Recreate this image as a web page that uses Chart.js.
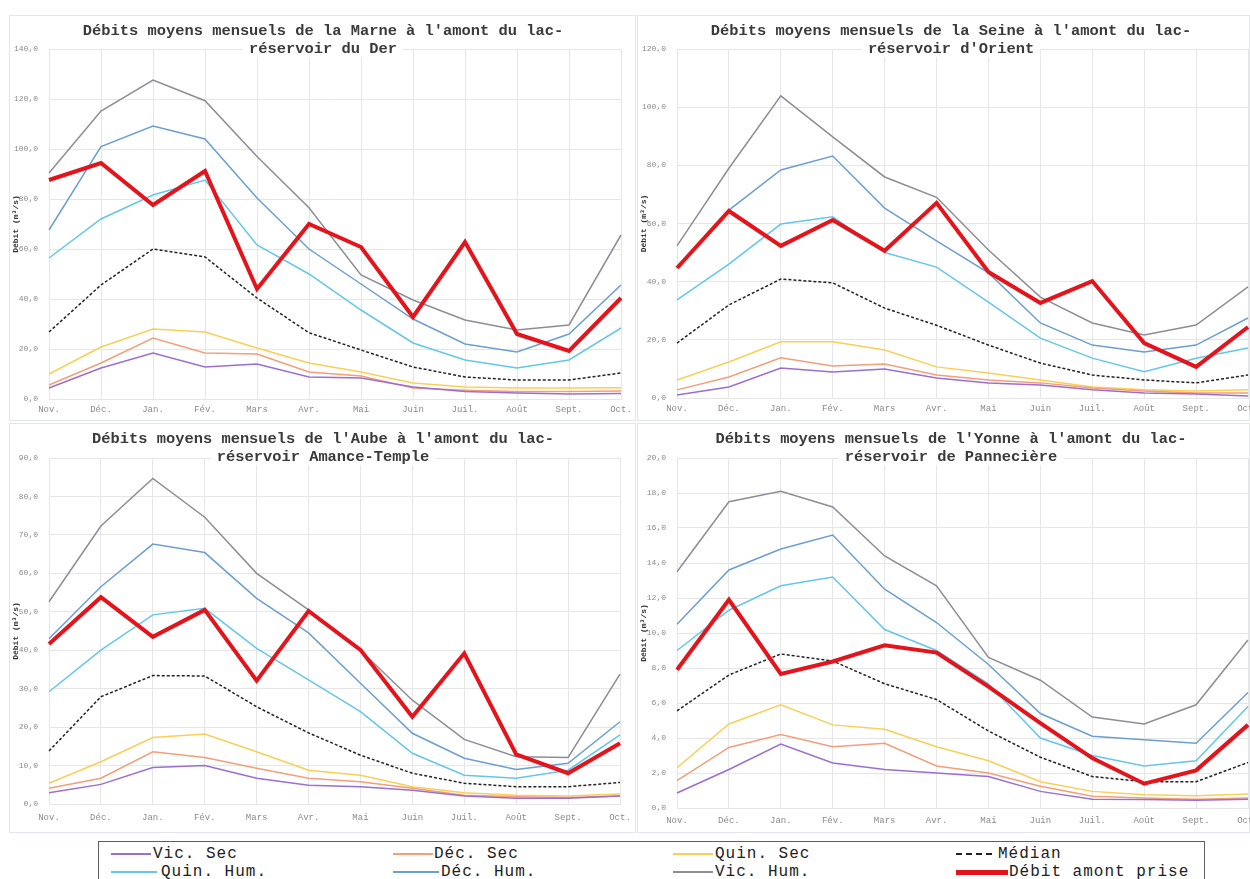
<!DOCTYPE html>
<html>
<head>
<meta charset="utf-8">
<script src="https://cdn.jsdelivr.net/npm/chart.js@4/dist/chart.umd.min.js"></script>
<style>
  body { margin: 0; background: #fff; width: 1250px; height: 879px; overflow: hidden; position: relative; }
  .frame { position: absolute; box-sizing: border-box; border: 1px solid #e2e6ea; }
  canvas.panel { position: absolute; }
  #legend { position: absolute; left: 98px; top: 841px; width: 1107px; height: 45px; box-sizing: border-box; border: 1px solid #5e5e5e; }
  .item { position: absolute; font-family: "Liberation Mono", monospace; font-size: 16px; letter-spacing: 1px; color: #222; line-height: 18px; white-space: nowrap; }
  .sw { position: absolute; height: 0; }
  .item span.t { position: absolute; top: 0; }
</style>
</head>
<body>
<div class="frame" style="left:9px;top:15px;width:627px;height:406px"></div>
<div class="frame" style="left:637px;top:15px;width:613px;height:406px"></div>
<div class="frame" style="left:9px;top:423px;width:627px;height:410px"></div>
<div class="frame" style="left:637px;top:423px;width:613px;height:410px"></div>
<canvas class="panel" id="marne" width="627" height="406" style="left:9px;top:15px"></canvas>
<canvas class="panel" id="seine" width="613" height="406" style="left:637px;top:15px"></canvas>
<canvas class="panel" id="aube" width="627" height="410" style="left:9px;top:423px"></canvas>
<canvas class="panel" id="yonne" width="613" height="410" style="left:637px;top:423px"></canvas>
<div id="legend"></div>

<script>
// Months of the hydrological year
const months = ['Nov.', 'Déc.', 'Jan.', 'Fév.', 'Mars', 'Avr.', 'Mai', 'Juin', 'Juil.', 'Août', 'Sept.', 'Oct.'];

// Series names
const seriesNames = ['Vic. Sec', 'Déc. Sec', 'Quin. Sec', 'Médian', 'Quin. Hum.', 'Déc. Hum.', 'Vic. Hum.', 'Débit amont prise'];

// Marne upstream of lac-réservoir du Der (m³/s)
const marneVicSec  = [4.4, 12.4, 18.4, 12.8, 14.0, 8.8, 8.4, 4.8, 3.0, 2.4, 2.0, 2.2];
const marneDecSec  = [5.6, 14.4, 24.4, 18.4, 18.0, 10.8, 9.2, 4.4, 3.5, 3.0, 3.0, 3.2];
const marneQuinSec = [10.0, 20.8, 28.0, 26.8, 20.4, 14.4, 10.8, 6.4, 4.8, 4.4, 4.4, 4.5];
const marneMedian  = [26.8, 45.6, 60.0, 56.8, 40.4, 26.5, 19.6, 12.8, 8.8, 7.6, 7.6, 10.4];
const marneQuinHum = [56.4, 72.0, 81.6, 87.6, 61.6, 50.0, 35.6, 22.4, 15.6, 12.4, 15.6, 28.4];
const marneDecHum  = [67.6, 101.0, 109.2, 104.0, 80.4, 60.0, 46.0, 32.0, 22.0, 18.8, 26.0, 45.6];
const marneVicHum  = [90.4, 115.2, 127.6, 119.3, 97.0, 76.5, 49.6, 39.6, 31.6, 27.6, 29.6, 65.6];
const marneDebit   = [87.6, 94.4, 77.6, 91.2, 44.0, 70.0, 60.8, 32.8, 62.8, 26.0, 19.2, 40.4];

// Seine upstream of lac-réservoir d'Orient (m³/s)
const seineVicSec  = [1.0, 3.8, 10.3, 8.9, 10.0, 6.9, 5.2, 4.5, 2.8, 1.7, 1.4, 0.7];
const seineDecSec  = [2.8, 7.2, 13.8, 11.0, 11.7, 7.9, 6.2, 5.2, 3.4, 2.4, 1.7, 1.7];
const seineQuinSec = [6.2, 12.4, 19.3, 19.3, 16.5, 10.7, 8.6, 6.2, 3.8, 2.8, 2.4, 2.8];
const seineMedian  = [18.9, 32.0, 40.9, 39.6, 30.9, 25.0, 18.2, 12.0, 7.9, 6.2, 5.2, 7.9];
const seineQuinHum = [33.7, 46.0, 59.8, 62.3, 50.0, 45.0, 33.0, 20.6, 13.7, 9.0, 13.7, 17.2];
const seineDecHum  = [45.0, 64.6, 78.4, 83.2, 65.3, 54.0, 43.0, 25.8, 18.2, 15.8, 18.2, 27.5];
const seineVicHum  = [52.3, 79.0, 103.9, 89.8, 76.0, 69.0, 50.9, 34.7, 25.8, 21.7, 25.1, 38.2];
const seineDebit   = [44.7, 64.3, 52.3, 61.2, 50.6, 67.1, 43.3, 32.7, 40.2, 18.9, 10.7, 24.4];

// Aube upstream of lac-réservoir Amance-Temple (m³/s)
const aubeVicSec  = [2.9, 5.1, 9.5, 10.0, 6.7, 4.9, 4.5, 3.6, 2.1, 1.5, 1.5, 2.1];
const aubeDecSec  = [4.1, 6.7, 13.6, 12.1, 9.3, 6.7, 5.8, 4.1, 2.3, 1.9, 1.7, 2.1];
const aubeQuinSec = [5.4, 11.0, 17.3, 18.2, 13.6, 8.8, 7.5, 4.5, 2.9, 2.3, 2.1, 2.6];
const aubeMedian  = [13.8, 27.9, 33.4, 33.3, 25.3, 18.5, 12.7, 8.0, 5.4, 4.5, 4.5, 5.6];
const aubeQuinHum = [29.2, 40.0, 49.2, 50.9, 40.5, 32.3, 24.0, 13.2, 7.5, 6.7, 8.8, 18.0];
const aubeDecHum  = [43.0, 56.5, 67.6, 65.4, 53.5, 44.5, 31.4, 18.4, 11.9, 9.0, 10.6, 21.4];
const aubeVicHum  = [52.6, 72.3, 84.7, 74.6, 60.0, 50.5, 40.0, 27.0, 16.8, 12.3, 12.1, 33.8];
const aubeDebit   = [41.6, 53.8, 43.5, 50.5, 32.1, 50.2, 40.1, 22.7, 39.2, 12.9, 8.0, 15.8];

// Yonne upstream of lac-réservoir de Pannecière (m³/s)
const yonneVicSec  = [0.86, 2.2, 3.65, 2.57, 2.2, 2.0, 1.8, 0.95, 0.5, 0.48, 0.44, 0.5];
const yonneDecSec  = [1.56, 3.46, 4.2, 3.5, 3.7, 2.4, 2.0, 1.24, 0.67, 0.57, 0.5, 0.57];
const yonneQuinSec = [2.3, 4.8, 5.9, 4.75, 4.5, 3.5, 2.7, 1.5, 0.95, 0.76, 0.7, 0.8];
const yonneMedian  = [5.55, 7.6, 8.8, 8.4, 7.1, 6.2, 4.4, 2.9, 1.8, 1.5, 1.5, 2.6];
const yonneQuinHum = [9.0, 11.3, 12.7, 13.2, 10.2, 9.0, 7.1, 4.0, 3.0, 2.4, 2.7, 5.8];
const yonneDecHum  = [10.5, 13.6, 14.8, 15.6, 12.5, 10.6, 8.2, 5.4, 4.1, 3.9, 3.7, 6.6];
const yonneVicHum  = [13.5, 17.5, 18.1, 17.2, 14.4, 12.7, 8.6, 7.3, 5.2, 4.8, 5.9, 9.6];
const yonneDebit   = [7.9, 11.9, 7.66, 8.37, 9.3, 8.88, 6.94, 4.85, 2.85, 1.39, 2.15, 4.75];

// Line styles, in the same order as seriesNames
const colors  = ['#9a6fd1', '#f29f7a', '#f9cf55', '#222222', '#63c7ea', '#6b9fd1', '#8d8d97', '#e3141b'];
const widths  = [1.5, 1.5, 1.5, 1.5, 1.5, 1.5, 1.5, 4];
const dashes  = [[], [], [], [3, 2], [], [], [], []];

const MONO = '"Liberation Mono", "Courier New", monospace';

// Two-line title drawn over the top of the plot, on a white band
const panelTitle = {
  id: 'panelTitle',
  afterDraw(chart, args, opts) {
    const ctx = chart.ctx;
    ctx.save();
    ctx.font = 'bold 15.4px ' + MONO;
    ctx.textAlign = 'center';
    ctx.textBaseline = 'middle';
    opts.lines.forEach((t, i) => {
      const y = opts.ys[i];
      const w = ctx.measureText(t).width;
      ctx.fillStyle = '#ffffff';
      ctx.fillRect(opts.x - w / 2 - 6, y - 8, w + 12, 16);
      ctx.fillStyle = '#3a3a3a';
      ctx.fillText(t, opts.x, y);
    });
    ctx.restore();
  }
};

function makePanel(id, series, titleLines, yMax, yStep, plotTop, xAxisH, rightPad, xLabelPad) {
  const order = [7, 0, 1, 2, 3, 4, 5, 6]; // red series on top
  const datasets = order.map(i => ({
    label: seriesNames[i],
    data: series[i],
    borderColor: colors[i],
    backgroundColor: colors[i],
    borderWidth: widths[i],
    borderDash: dashes[i],
    pointRadius: 0,
    tension: 0,
    fill: false
  }));
  return new Chart(document.getElementById(id), {
    type: 'line',
    data: { labels: months, datasets },
    plugins: [panelTitle],
    options: {
      responsive: false,
      animation: false,
      events: [],
      layout: { padding: { top: plotTop, right: rightPad, left: 0, bottom: 0 } },
      plugins: {
        legend: { display: false },
        tooltip: { enabled: false },
        title: { display: false },
        panelTitle: { lines: titleLines, x: 314, ys: [16, 34] }
      },
      scales: {
        x: {
          grid: { color: '#e6e6e6', drawTicks: false },
          border: { color: '#e6e6e6' },
          ticks: { font: { family: MONO, size: 9 }, color: '#8a8a8a', padding: xLabelPad, maxRotation: 0, autoSkip: false },
          afterFit(s) { s.height = xAxisH; s.paddingLeft = 0; s.paddingRight = 0; }
        },
        y: {
          min: 0, max: yMax,
          grid: { color: '#e6e6e6', drawTicks: false },
          border: { color: '#e6e6e6' },
          ticks: {
            stepSize: yStep,
            font: { family: MONO, size: 8 }, color: '#8a8a8a', padding: 11,
            callback: v => v.toFixed(1).replace('.', ',')
          },
          title: {
            display: true, text: 'Débit (m³/s)',
            font: { family: MONO, size: 8, weight: 'bold' }, color: '#333',
            padding: { top: 2, bottom: 0 }
          },
          afterFit(s) { s.width = 40; }
        }
      }
    }
  });
}

makePanel('marne',
  [marneVicSec, marneDecSec, marneQuinSec, marneMedian, marneQuinHum, marneDecHum, marneVicHum, marneDebit],
  ["Débits moyens mensuels de la Marne à l'amont du lac-", 'réservoir du Der'],
  140, 20, 34, 22, 15, 5);
makePanel('seine',
  [seineVicSec, seineDecSec, seineQuinSec, seineMedian, seineQuinHum, seineDecHum, seineVicHum, seineDebit],
  ["Débits moyens mensuels de la Seine à l'amont du lac-", "réservoir d'Orient"],
  120, 20, 34, 23, 2, 5);
makePanel('aube',
  [aubeVicSec, aubeDecSec, aubeQuinSec, aubeMedian, aubeQuinHum, aubeDecHum, aubeVicHum, aubeDebit],
  ["Débits moyens mensuels de l'Aube à l'amont du lac-", 'réservoir Amance-Temple'],
  90, 10, 35, 29, 16, 8);
makePanel('yonne',
  [yonneVicSec, yonneDecSec, yonneQuinSec, yonneMedian, yonneQuinHum, yonneDecHum, yonneVicHum, yonneDebit],
  ["Débits moyens mensuels de l'Yonne à l'amont du lac-", 'réservoir de Pannecière'],
  20, 2, 35, 25, 2, 7);

// Shared legend below the four panels: [left, top, sample width, text left]
const legendPos = [
  [12, 3, 40, 54], [294, 3, 40, 335], [574, 3, 40, 616], [857, 3, 38, 899],
  [12, 21, 46, 62], [294, 21, 46, 342], [574, 21, 40, 616], [857, 21, 52, 910]
];
const legend = document.getElementById('legend');
seriesNames.forEach((name, i) => {
  const [left, top, sw, tx] = legendPos[i];
  const it = document.createElement('div');
  it.className = 'item';
  it.style.left = left + 'px';
  it.style.top = top + 'px';
  const s = document.createElement('div');
  s.className = 'sw';
  s.style.width = sw + 'px';
  s.style.left = '0px';
  const w = i === 7 ? 5 : 2;
  s.style.height = w + 'px';
  s.style.top = (9 - w / 2) + 'px';
  s.style.background = i === 3
    ? 'repeating-linear-gradient(to right, ' + colors[i] + ' 0 6px, transparent 6px 10px)'
    : colors[i];
  const t = document.createElement('span');
  t.className = 't';
  t.style.left = (tx - left) + 'px';
  t.textContent = name;
  it.appendChild(s);
  it.appendChild(t);
  legend.appendChild(it);
});
</script>
</body>
</html>
